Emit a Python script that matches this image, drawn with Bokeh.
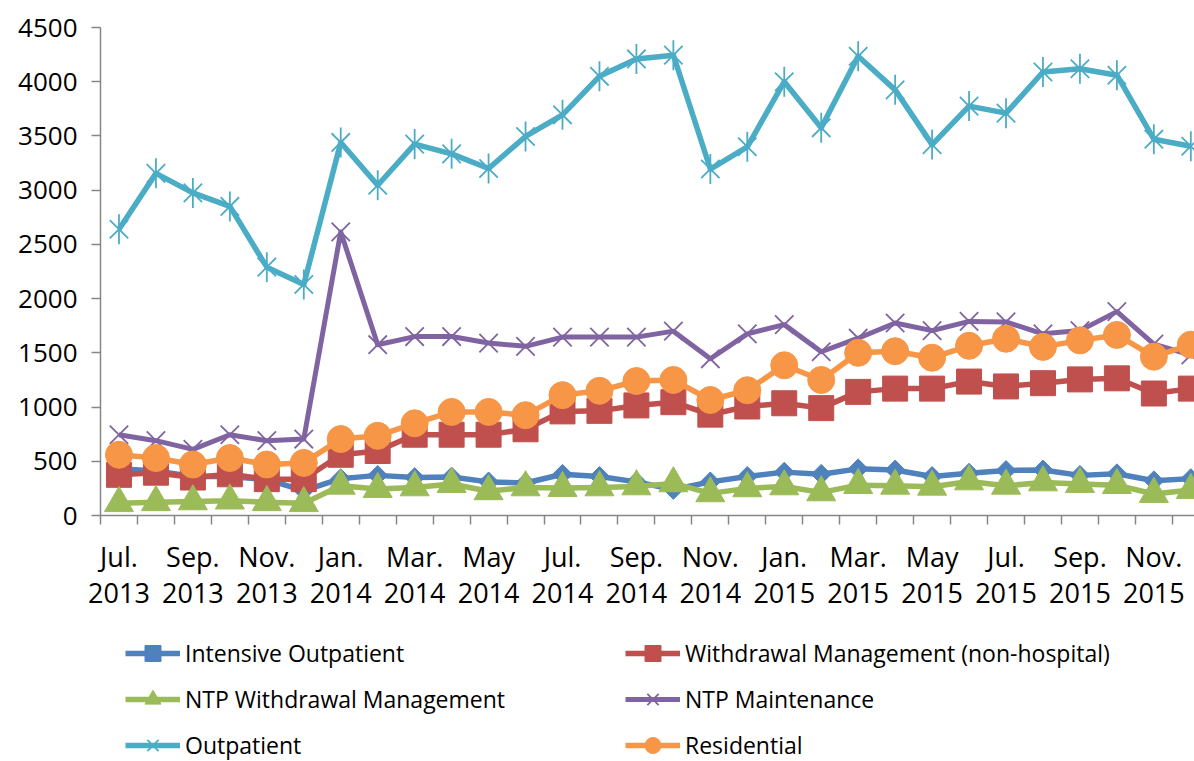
import math
from bokeh.plotting import figure
from bokeh.models import Range1d, FixedTicker, Legend, LegendItem, ColumnDataSource
from bokeh.embed import file_html
from bokeh.resources import INLINE

months = ["Jul. 2013", "Aug. 2013", "Sep. 2013", "Oct. 2013", "Nov. 2013", "Dec. 2013",
          "Jan. 2014", "Feb. 2014", "Mar. 2014", "Apr. 2014", "May 2014", "Jun. 2014",
          "Jul. 2014", "Aug. 2014", "Sep. 2014", "Oct. 2014", "Nov. 2014", "Dec. 2014",
          "Jan. 2015", "Feb. 2015", "Mar. 2015", "Apr. 2015", "May 2015", "Jun. 2015",
          "Jul. 2015", "Aug. 2015", "Sep. 2015", "Oct. 2015", "Nov. 2015", "Dec. 2015"]

intensive_outpatient = [430, 410, 360, 360, 330, 230, 340, 370, 350, 355, 310, 300, 380, 360, 310,
                        240, 310, 360, 400, 380, 430, 420, 360, 390, 415, 420, 370, 385, 320, 340]
withdrawal_mgmt = [375, 395, 350, 380, 335, 335, 560, 595, 745, 745, 745, 795, 960, 965, 1015,
                   1045, 930, 1005, 1035, 990, 1140, 1170, 1170, 1235, 1190, 1220, 1255, 1265, 1125, 1170]
ntp_withdrawal = [113, 122, 130, 137, 122, 113, 274, 244, 259, 290, 223, 259, 253, 259, 268,
                  296, 204, 250, 268, 213, 280, 274, 265, 314, 274, 305, 290, 280, 198, 235]
ntp_maintenance = [745, 690, 610, 745, 690, 705, 2615, 1575, 1650, 1650, 1590, 1560, 1645, 1645, 1645,
                   1700, 1445, 1675, 1760, 1510, 1635, 1775, 1705, 1790, 1785, 1675, 1705, 1880, 1580, 1480]
outpatient = [2640, 3155, 2975, 2850, 2290, 2130, 3440, 3045, 3425, 3335, 3200, 3495, 3695, 4050, 4210,
              4245, 3195, 3400, 4000, 3575, 4235, 3925, 3420, 3775, 3710, 4090, 4120, 4060, 3470, 3405]
residential = [560, 530, 470, 530, 470, 485, 705, 735, 850, 955, 955, 925, 1110, 1150, 1240,
               1250, 1065, 1155, 1385, 1250, 1500, 1515, 1455, 1565, 1630, 1555, 1615, 1665, 1465, 1575]

y_ticks = [0, 500, 1000, 1500, 2000, 2500, 3000, 3500, 4000, 4500]

FONT = "Open Sans"
x = list(range(len(months)))

# layout: the frame fills the whole canvas; the value axis spans 488 px for 0..4500
# (top at 27 px, zero at 515 px) and one category step is 36.96 px, so the axes are
# pinned inside the frame.
Y_AXIS_MAX = 4500
PX_PER_UNIT = 488 / Y_AXIS_MAX
Y_MIN = -246 / PX_PER_UNIT
Y_MAX = Y_AXIS_MAX + 27 / PX_PER_UNIT
STEP = 36.96
X_MIN = -0.5 - 100 / STEP
X_MAX = -0.5 + 1094 / STEP

p = figure(width=1194, height=761, output_backend="svg", toolbar_location=None,
           x_range=Range1d(X_MIN, X_MAX), y_range=Range1d(Y_MIN, Y_MAX),
           min_border_left=0, min_border_right=0, min_border_top=0, min_border_bottom=0,
           outline_line_color=None)
p.grid.visible = False
p.background_fill_color = "white"

# x axis, pinned at y = 0
xa = p.xaxis[0]
xa.fixed_location = 0
xa.bounds = (-0.5, len(months))
major = [i for i in x if i % 2 == 0]
xa.ticker = FixedTicker(ticks=major, minor_ticks=[i - 0.5 for i in range(len(months) + 1)])
xa.major_label_overrides = {i: months[i].replace(" ", "\n") for i in major}
xa.major_tick_line_color = None
xa.major_tick_out = 0
xa.major_tick_in = 0
xa.minor_tick_out = 9
xa.minor_tick_in = 0
xa.minor_tick_line_color = "#868686"
xa.minor_tick_line_width = 1.5
xa.axis_line_color = "#868686"
xa.axis_line_width = 1.5
xa.major_label_text_font = FONT
xa.major_label_text_font_size = "27px"
xa.major_label_text_color = "black"
xa.major_label_text_line_height = 0.98
xa.major_label_standoff = 13

# y axis, pinned at the left edge of the first category
ya = p.yaxis[0]
ya.fixed_location = -0.5
ya.bounds = (0, Y_AXIS_MAX)
ya.ticker = FixedTicker(ticks=y_ticks, minor_ticks=[])
ya.axis_line_color = "#868686"
ya.axis_line_width = 1.5
ya.major_tick_line_color = "#868686"
ya.major_tick_line_width = 1.5
ya.major_tick_out = 9
ya.major_tick_in = 0
ya.minor_tick_line_color = None
ya.major_label_text_font = FONT
ya.major_label_text_font_size = "26px"
ya.major_label_text_color = "black"
ya.major_label_standoff = 14

src = ColumnDataSource(dict(x=x, io=intensive_outpatient, wm=withdrawal_mgmt, ntw=ntp_withdrawal,
                            ntm=ntp_maintenance, op=outpatient, res=residential))

BLUE, RED, GREEN, PURPLE, AQUA, ORANGE = "#4F81BD", "#C0504D", "#9BBB59", "#8064A2", "#4BACC6", "#F79646"

items = {}
l = p.line("x", "io", source=src, line_color=BLUE, line_width=5.5, line_join="round")
m = p.scatter("x", "io", source=src, marker="square", angle=math.pi / 4, size=14,
              fill_color=BLUE, line_color=BLUE)
items["Intensive Outpatient"] = [l, m]

l = p.line("x", "wm", source=src, line_color=RED, line_width=5.5, line_join="round")
m = p.scatter("x", "wm", source=src, marker="square", size=25, fill_color=RED, line_color=RED)
items["Withdrawal Management (non-hospital)"] = [l, m]

l = p.line("x", "ntw", source=src, line_color=GREEN, line_width=5.5, line_join="round")
m = p.scatter("x", "ntw", source=src, marker="triangle", size=29, fill_color=GREEN, line_color=GREEN)
items["NTP Withdrawal Management"] = [l, m]

l = p.line("x", "ntm", source=src, line_color=PURPLE, line_width=5, line_join="round")
m = p.scatter("x", "ntm", source=src, marker="x", size=26, line_color=PURPLE, line_width=1.8)
items["NTP Maintenance"] = [l, m]

l = p.line("x", "op", source=src, line_color=AQUA, line_width=5.5, line_join="round")
m = p.scatter("x", "op", source=src, marker="x", size=26, line_color=AQUA, line_width=1.8)
m2 = p.scatter("x", "op", source=src, marker="dash", angle=math.pi / 2, size=30,
               line_color=AQUA, line_width=1.8)
items["Outpatient"] = [l, m, m2]

l = p.line("x", "res", source=src, line_color=ORANGE, line_width=5.5, line_join="round")
m = p.scatter("x", "res", source=src, marker="circle", size=27, fill_color=ORANGE, line_color=ORANGE)
items["Residential"] = [l, m]

names = list(items.keys())
columns = [(names[0::2], 125), (names[1::2], 625)]
for col, xoff in columns:
    lg = Legend(items=[LegendItem(label=n, renderers=items[n]) for n in col],
                location=(xoff, -4), orientation="vertical",
                glyph_width=55, glyph_height=40, label_height=40, spacing=6,
                label_standoff=5, padding=0, margin=0,
                border_line_color=None, background_fill_alpha=0,
                label_text_font=FONT, label_text_font_size="23px", label_text_color="black")
    p.add_layout(lg, "center")

open("out.html", "w").write(file_html(p, INLINE))
